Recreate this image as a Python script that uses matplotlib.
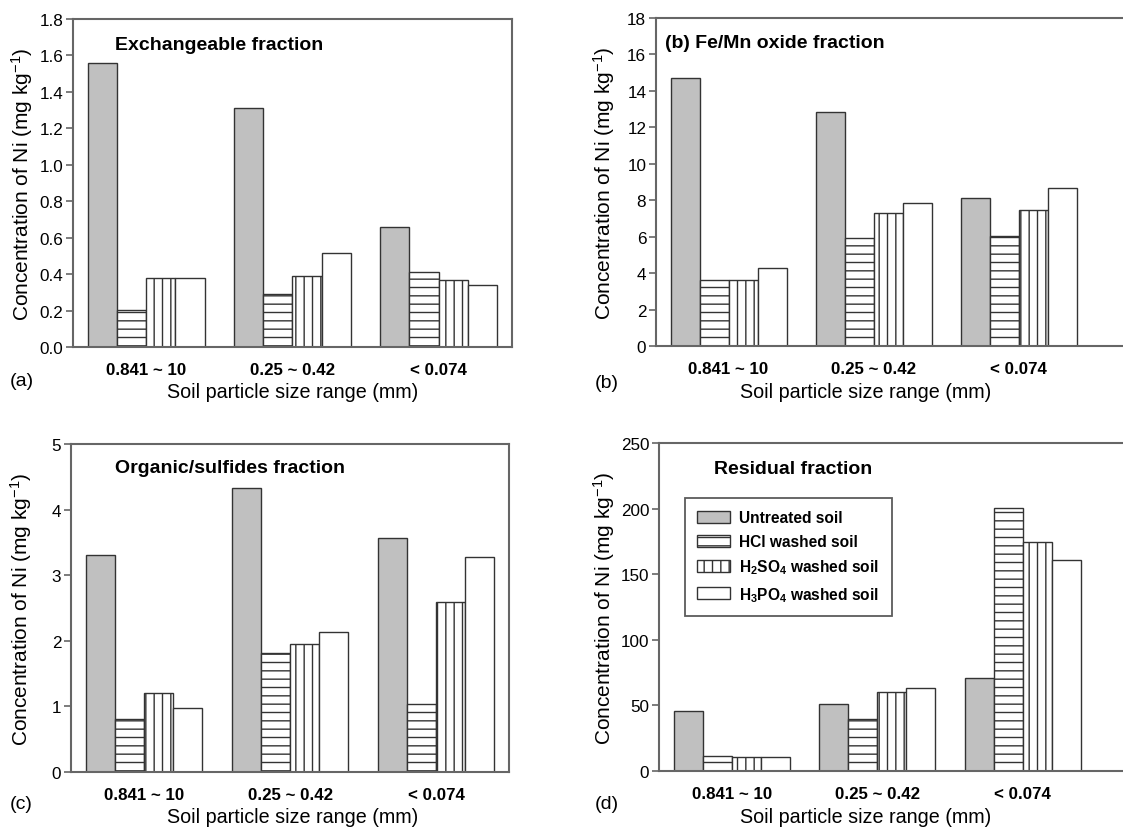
import numpy as np
import matplotlib
matplotlib.use('Agg')
import matplotlib.pyplot as plt

plt.rcParams['font.family'] = ['Liberation Sans', 'DejaVu Sans']
plt.rcParams['mathtext.fontset'] = 'custom'
plt.rcParams['mathtext.rm'] = 'Liberation Sans'
plt.rcParams['mathtext.bf'] = 'Liberation Sans:bold'
plt.rcParams['mathtext.default'] = 'regular'
plt.rcParams['hatch.linewidth'] = 1.0

# data
categories = ['0.841 ~ 10', '0.25 ~ 0.42', '< 0.074']
series = ['Untreated soil', 'HCl washed soil',
          r'$\mathbf{H_2SO_4}$ washed soil', r'$\mathbf{H_3PO_4}$ washed soil']

exchangeable = [[1.56, 1.31, 0.66],
                [0.205, 0.29, 0.41],
                [0.38, 0.39, 0.365],
                [0.38, 0.515, 0.342]]
fe_mn_oxide = [[14.7, 12.82, 8.12],
               [3.6, 5.92, 6.03],
               [3.6, 7.29, 7.44],
               [4.3, 7.86, 8.68]]
organic = [[3.31, 4.33, 3.56],
           [0.81, 1.81, 1.03],
           [1.20, 1.95, 2.59],
           [0.98, 2.14, 3.28]]
residual = [[45.5, 50.8, 71.0],
            [11.2, 39.5, 200.7],
            [10.7, 60.5, 174.8],
            [10.4, 63.5, 160.8]]

W, H = 1123, 829
fills = ['#c0c0c0', 'white', 'white', 'white']
hatches = [None, '--', '||', None]
edge = '#333333'
spine_col = '#666666'

fig = plt.figure(figsize=(W / 100, H / 100), dpi=100)


def px_axes(left, top, right, bottom):
    return fig.add_axes([left / W, 1 - bottom / H, (right - left) / W, (bottom - top) / H])


def draw_panel(ax, values, ymax, ystep, fmt, group_px, width_px):
    x = np.arange(len(categories))
    bw = 0.2
    for i, vals in enumerate(values):
        ax.bar(x + (i - 1.5) * bw, vals, bw, color=fills[i], edgecolor=edge,
               linewidth=1.0, hatch=hatches[i], label=series[i], zorder=2)
    ax.set_xlim(-0.5, -0.5 + width_px / group_px)
    ax.set_ylim(0, ymax)
    ticks = np.arange(0, ymax + ystep / 2, ystep)
    ax.set_yticks(ticks)
    ax.set_yticklabels([fmt.format(t) for t in ticks], fontsize=12.3)
    ax.set_xticks(x)
    ax.set_xticklabels(categories, fontsize=12.2, fontweight='bold')
    ax.tick_params(axis='x', length=0, pad=11)
    ax.tick_params(axis='y', direction='out', length=5, width=1.2, color=spine_col, pad=2)
    for s in ax.spines.values():
        s.set_color(spine_col)
        s.set_linewidth(1.5)


ax_a = px_axes(73, 20, 512, 348)
draw_panel(ax_a, exchangeable, 1.8, 0.2, '{:.1f}', 146.3, 439)
ax_b = px_axes(656, 19, 1165, 347)
draw_panel(ax_b, fe_mn_oxide, 18, 2, '{:.0f}', 145, 509)
ax_c = px_axes(71, 445, 509, 773)
draw_panel(ax_c, organic, 5, 1, '{:.0f}', 146, 438)
ax_d = px_axes(659, 444, 1165, 772)
draw_panel(ax_d, residual, 250, 50, '{:.0f}', 145.5, 506)

# panel titles
title_kw = dict(fontsize=14, fontweight='bold', ha='left', va='center')
fig.text(115 / W, 1 - 45 / H, 'Exchangeable fraction', **title_kw)
fig.text(665 / W, 1 - 44 / H, '(b) Fe/Mn oxide fraction', **title_kw)
fig.text(115 / W, 1 - 469 / H, 'Organic/sulfides fraction', **title_kw)
fig.text(714 / W, 1 - 470 / H, 'Residual fraction', **title_kw)

# axis labels and panel letters
ylab = r'Concentration of Ni (mg kg$^{-1}$)'
xlab = 'Soil particle size range (mm)'
for (yx, yy), (xx, xy), (lx, ly), letter in [
        ((22, 184), (293, 393), (22, 382), '(a)'),
        ((604, 183), (866, 393), (607, 384), '(b)'),
        ((21, 609), (293, 818), (21, 805), '(c)'),
        ((604, 608), (866, 818), (607, 805), '(d)')]:
    fig.text(yx / W, 1 - yy / H, ylab, rotation=90, fontsize=15, ha='center', va='center')
    fig.text(xx / W, 1 - xy / H, xlab, fontsize=14.2, ha='center', va='center')
    fig.text(lx / W, 1 - ly / H, letter, fontsize=14, ha='center', va='center')

# legend in the residual panel
leg = ax_d.legend(loc='upper left', bbox_to_anchor=((685 - 659) / 506, (772 - 499) / 328),
                  prop={'weight': 'bold', 'size': 11.2}, frameon=True, fancybox=False,
                  edgecolor='#333333', handlelength=2.1, handleheight=0.8,
                  handletextpad=0.6, labelspacing=0.55, borderpad=0.8, borderaxespad=0)
leg.get_frame().set_linewidth(1.3)

fig.savefig('out.png', dpi=100, facecolor='white')
